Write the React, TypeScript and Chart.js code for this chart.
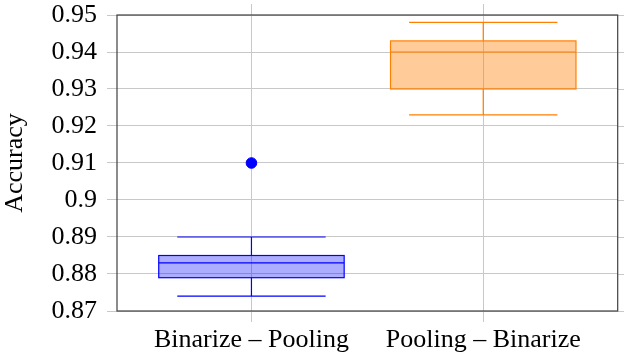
import { useEffect, useRef } from "react";
import { Chart, registerables } from "chart.js";

Chart.register(...registerables);

const categories = ["Binarize – Pooling", "Pooling – Binarize"];
const positions = [1, 2];
const lowerWhisker = [0.874, 0.923];
const q1 = [0.879, 0.93];
const median = [0.883, 0.94];
const q3 = [0.885, 0.943];
const upperWhisker = [0.89, 0.948];
const outliers: number[][] = [[0.91], []];
const yTicks = [0.87, 0.88, 0.89, 0.9, 0.91, 0.92, 0.93, 0.94, 0.95];
const yTickLabels = ["0.87", "0.88", "0.89", "0.9", "0.91", "0.92", "0.93", "0.94", "0.95"];
const strokeColors = ["#0000ff", "#ff8000"];
const fillColors = ["rgba(0,0,255,0.32)", "rgba(255,128,0,0.4)"];
const yTitle = "Accuracy";

const FONT = "'Liberation Serif', 'Times New Roman', serif";
const FONT_SIZE = 26;
const GRID = "#c8c8c8";
const AXIS = "#404040";

const boxPlugin = {
  id: "boxplot",
  beforeDatasetsDraw(chart: any) {
    const { ctx, chartArea } = chart;
    const xs = chart.scales.x;
    const ys = chart.scales.y;
    ctx.save();
    // outside ticks on top / right (pgfplots style)
    ctx.strokeStyle = GRID;
    ctx.lineWidth = 1;
    positions.forEach((p) => {
      const x = Math.round(xs.getPixelForValue(p)) + 0.5;
      ctx.beginPath();
      ctx.moveTo(x, chartArea.top - 11);
      ctx.lineTo(x, chartArea.top);
      ctx.stroke();
    });
    yTicks.forEach((v) => {
      const y = Math.round(ys.getPixelForValue(v)) + 0.5;
      ctx.beginPath();
      ctx.moveTo(chartArea.right, y);
      ctx.lineTo(chartArea.right + 10, y);
      ctx.stroke();
    });
    positions.forEach((p, i) => {
      const xc = xs.getPixelForValue(p);
      const xl = xs.getPixelForValue(p - 0.4);
      const xr = xs.getPixelForValue(p + 0.4);
      const wl = xs.getPixelForValue(p - 0.32);
      const wr = xs.getPixelForValue(p + 0.32);
      const yq1 = ys.getPixelForValue(q1[i]);
      const yq3 = ys.getPixelForValue(q3[i]);
      const ym = ys.getPixelForValue(median[i]);
      const ylo = ys.getPixelForValue(lowerWhisker[i]);
      const yhi = ys.getPixelForValue(upperWhisker[i]);
      ctx.strokeStyle = strokeColors[i];
      ctx.lineWidth = 1.2;
      ctx.fillStyle = fillColors[i];
      ctx.fillRect(xl, yq3, xr - xl, yq1 - yq3);
      ctx.strokeRect(xl, yq3, xr - xl, yq1 - yq3);
      ctx.beginPath();
      ctx.moveTo(xl, ym);
      ctx.lineTo(xr, ym);
      ctx.moveTo(xc, yq3);
      ctx.lineTo(xc, yhi);
      ctx.moveTo(wl, yhi);
      ctx.lineTo(wr, yhi);
      ctx.moveTo(xc, yq1);
      ctx.lineTo(xc, ylo);
      ctx.moveTo(wl, ylo);
      ctx.lineTo(wr, ylo);
      ctx.stroke();
    });
    ctx.restore();
  },
  afterDraw(chart: any) {
    const { ctx, chartArea } = chart;
    ctx.save();
    ctx.strokeStyle = AXIS;
    ctx.lineWidth = 1.2;
    ctx.strokeRect(chartArea.left, chartArea.top, chartArea.right - chartArea.left, chartArea.bottom - chartArea.top);
    ctx.restore();
  },
};

export default function App() {
  const ref = useRef<HTMLCanvasElement>(null);
  useEffect(() => {
    if (!ref.current) return;
    const outlierData: { x: number; y: number }[] = [];
    outliers.forEach((arr, i) => arr.forEach((v) => outlierData.push({ x: positions[i], y: v })));
    const chart = new Chart(ref.current, {
      type: "scatter",
      data: {
        datasets: [
          {
            data: outlierData,
            backgroundColor: strokeColors[0],
            borderColor: strokeColors[0],
            pointRadius: 5.3,
            pointHoverRadius: 5.3,
          },
        ],
      },
      options: {
        responsive: false,
        animation: false,
        events: [],
        layout: { padding: { left: 0, right: 6, top: 15, bottom: 0 } },
        plugins: { legend: { display: false }, tooltip: { enabled: false } },
        scales: {
          x: {
            type: "linear",
            min: 0.42,
            max: 2.58,
            afterBuildTicks: (s: any) => {
              s.ticks = positions.map((v) => ({ value: v }));
            },
            afterFit: (s: any) => {
              s.height = 49;
              s.paddingLeft = 0;
              s.paddingRight = 0;
            },
            grid: { color: GRID, tickLength: 11, lineWidth: 1 },
            border: { display: false },
            ticks: {
              color: "#000",
              padding: 3,
              maxRotation: 0,
              autoSkip: false,
              font: { family: FONT, size: FONT_SIZE },
              callback: (v: any) => categories[positions.indexOf(Number(v))] ?? "",
            },
          },
          y: {
            min: 0.87,
            max: 0.95,
            afterBuildTicks: (s: any) => {
              s.ticks = yTicks.map((v) => ({ value: v }));
            },
            afterFit: (s: any) => {
              s.width = 117;
              s.paddingTop = 0;
              s.paddingBottom = 0;
            },
            grid: { color: GRID, tickLength: 10, lineWidth: 1 },
            border: { display: false },
            title: {
              display: true,
              text: yTitle,
              color: "#000",
              font: { family: FONT, size: FONT_SIZE },
              padding: { top: 0, bottom: 0 },
            },
            ticks: {
              color: "#000",
              padding: 10,
              font: { family: FONT, size: FONT_SIZE },
              callback: (v: any) => yTickLabels[yTicks.findIndex((t) => Math.abs(t - Number(v)) < 1e-9)] ?? "",
            },
          },
        },
      },
      plugins: [boxPlugin],
    });
    return () => chart.destroy();
  }, []);
  return (
    <div style={{ position: "absolute", left: 0, top: 0, width: 624, height: 360, background: "#fff" }}>
      <canvas ref={ref} width={624} height={360} />
    </div>
  );
}
